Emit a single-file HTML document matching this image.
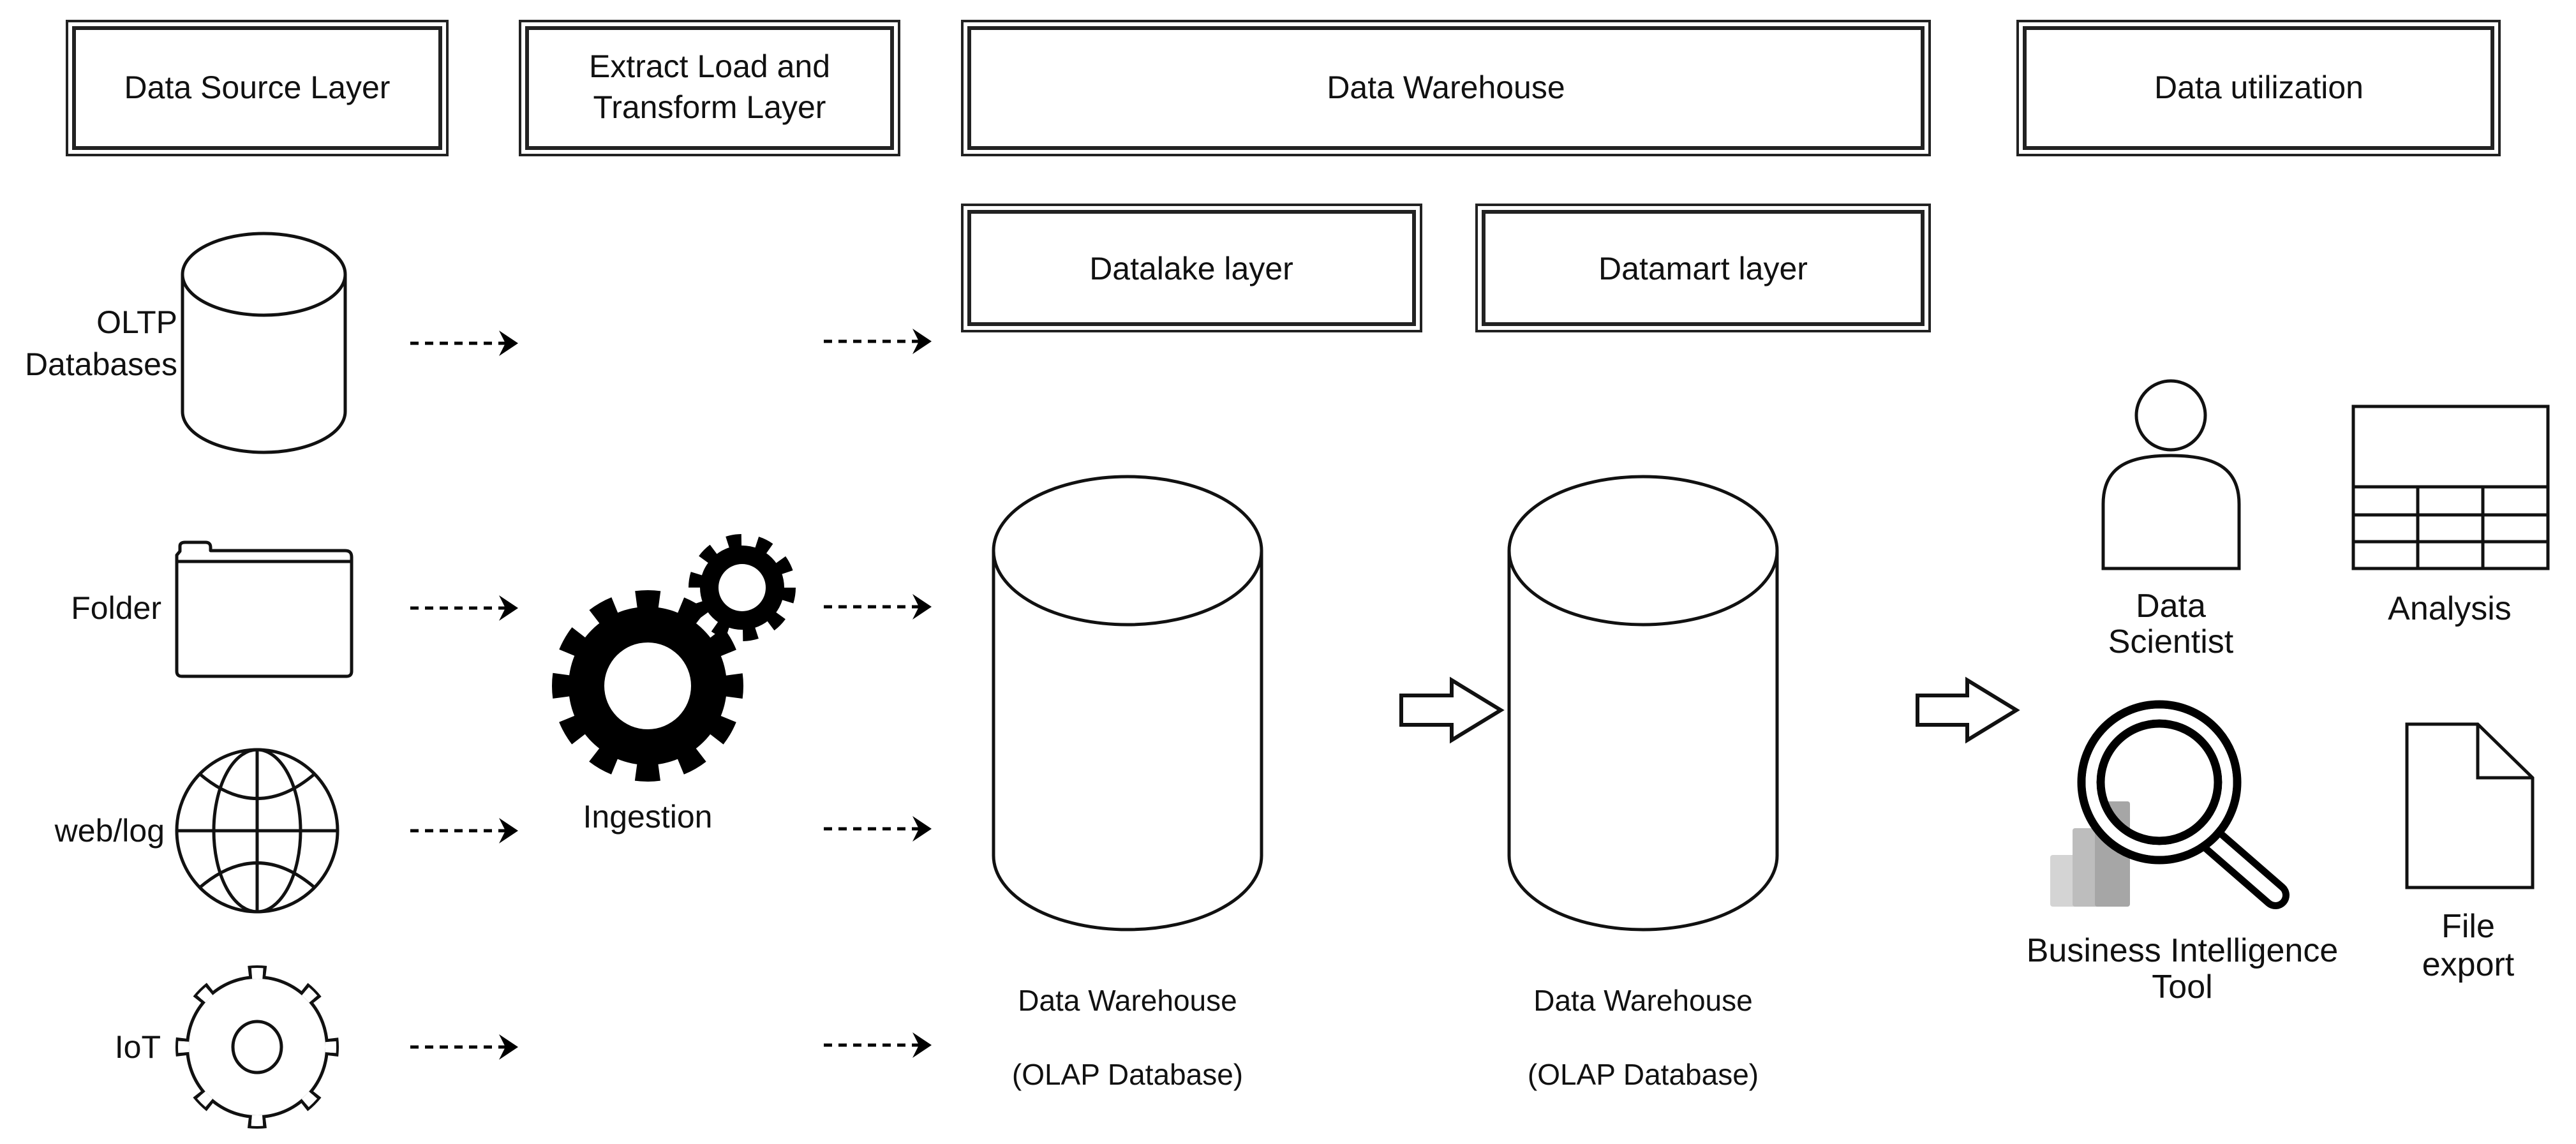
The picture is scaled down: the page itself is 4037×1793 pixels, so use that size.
<!DOCTYPE html>
<html><head><meta charset="utf-8"><style>
html,body{margin:0;padding:0;background:#fff}
svg{display:block}
text{font-family:"Liberation Sans",Arial,sans-serif;fill:#111}
</style></head><body>
<svg width="4037" height="1793" viewBox="0 0 4037 1793" xmlns="http://www.w3.org/2000/svg">
<defs>
<g id="ah"><polygon points="0,0 -30,-20 -20,0 -30,20" fill="#000"/></g>
</defs>
<g fill="none" stroke="#222">
<rect x="105" y="33" width="596" height="210" stroke-width="4"/><rect x="116" y="44" width="574" height="188" stroke-width="6"/>
<rect x="815" y="33" width="594" height="210" stroke-width="4"/><rect x="826" y="44" width="572" height="188" stroke-width="6"/>
<rect x="1508" y="33" width="1516" height="210" stroke-width="4"/><rect x="1519" y="44" width="1494" height="188" stroke-width="6"/>
<rect x="3162" y="33" width="755" height="210" stroke-width="4"/><rect x="3173" y="44" width="733" height="188" stroke-width="6"/>
<rect x="1508" y="321" width="719" height="198" stroke-width="4"/><rect x="1519" y="332" width="697" height="176" stroke-width="6"/>
<rect x="2314" y="321" width="710" height="198" stroke-width="4"/><rect x="2325" y="332" width="688" height="176" stroke-width="6"/>
</g>
<g font-size="50" text-anchor="middle">
<text x="403" y="154">Data Source Layer</text>
<text x="1112" y="121">Extract Load and</text>
<text x="1112" y="185">Transform Layer</text>
<text x="2266" y="154">Data Warehouse</text>
<text x="3540" y="154">Data utilization</text>
<text x="1867" y="438">Datalake layer</text>
<text x="2669" y="438">Datamart layer</text>
</g>
<g fill="#fff" stroke="#111" stroke-width="5">
<path d="M286,430 L286,645 A127.5,64 0 0 0 541,645 L541,430"/>
<ellipse cx="413.5" cy="430" rx="127.5" ry="64"/>
</g>
<g font-size="50" text-anchor="end">
<text x="278" y="522">OLTP</text>
<text x="278" y="588">Databases</text>
<text x="253" y="970">Folder</text>
<text x="258" y="1319">web/log</text>
<text x="252" y="1658">IoT</text>
</g>
<g fill="#fff" stroke="#111" stroke-width="5" stroke-linejoin="round">
<path d="M282,864 L282,856 Q282,850 290,850 L322,850 Q330,850 330,858 L330,863 L541,863 Q551,863 551,873 L551,1052 Q551,1060 543,1060 L285,1060 Q277,1060 277,1052 L277,870 Z"/>
<line x1="277" y1="880" x2="551" y2="880"/>
</g>
<g fill="none" stroke="#111" stroke-width="5">
<ellipse cx="403" cy="1302" rx="126" ry="127"/>
<ellipse cx="403" cy="1302" rx="68" ry="127"/>
<line x1="403" y1="1175" x2="403" y2="1429"/>
<line x1="277" y1="1302" x2="529" y2="1302"/>
<path d="M313,1213 Q403,1290 493,1213"/>
<path d="M313,1391 Q403,1314 493,1391"/>
</g>
<g>
<circle cx="403" cy="1641" r="112" fill="#111"/>
<circle cx="403" cy="1641" r="119" fill="none" stroke="#111" stroke-width="18" stroke-dasharray="28 65.46" stroke-dashoffset="14"/>
<circle cx="403" cy="1641" r="107" fill="#fff"/>
<circle cx="403" cy="1641" r="119" fill="none" stroke="#fff" stroke-width="10" stroke-dasharray="18 75.46" stroke-dashoffset="9"/>
<circle cx="403" cy="1641" r="112" fill="none" stroke="#fff" stroke-width="10" stroke-dasharray="16.94 71.03" stroke-dashoffset="8.47"/>
<ellipse cx="403" cy="1641" rx="38" ry="40" fill="none" stroke="#111" stroke-width="5"/>
</g>
<g>
<circle cx="1163" cy="921" r="66" fill="#000"/>
<circle cx="1163" cy="921" r="74" fill="none" stroke="#000" stroke-width="20" stroke-dasharray="22 24.5"/>
<circle cx="1163" cy="921" r="37" fill="#fff"/>
<circle cx="1015" cy="1075" r="124" fill="#000"/>
<circle cx="1015" cy="1075" r="134" fill="none" stroke="#000" stroke-width="32" stroke-dasharray="36 34.16" stroke-dashoffset="18"/>
<circle cx="1015" cy="1075" r="68" fill="#fff"/>
</g>
<text x="1015" y="1297" font-size="50" text-anchor="middle">Ingestion</text>
<g stroke="#000" stroke-width="5" stroke-dasharray="13 10">
<line x1="643" y1="538" x2="795" y2="538"/><line x1="1291" y1="535" x2="1443" y2="535"/>
<line x1="643" y1="953" x2="795" y2="953"/><line x1="1291" y1="951" x2="1443" y2="951"/>
<line x1="643" y1="1302" x2="795" y2="1302"/><line x1="1291" y1="1299" x2="1443" y2="1299"/>
<line x1="643" y1="1641" x2="795" y2="1641"/><line x1="1291" y1="1638" x2="1443" y2="1638"/>
</g>
<use href="#ah" x="812" y="538"/><use href="#ah" x="1460" y="535"/>
<use href="#ah" x="812" y="953"/><use href="#ah" x="1460" y="951"/>
<use href="#ah" x="812" y="1302"/><use href="#ah" x="1460" y="1299"/>
<use href="#ah" x="812" y="1641"/><use href="#ah" x="1460" y="1638"/>
<g fill="#fff" stroke="#111" stroke-width="5">
<path d="M1557,863 L1557,1341 A210,116 0 0 0 1977,1341 L1977,863"/>
<ellipse cx="1767" cy="863" rx="210" ry="116"/>
<path d="M2365,863 L2365,1341 A210,116 0 0 0 2785,1341 L2785,863"/>
<ellipse cx="2575" cy="863" rx="210" ry="116"/>
</g>
<g font-size="46" text-anchor="middle">
<text x="1767" y="1584">Data Warehouse</text>
<text x="1767" y="1700">(OLAP Database)</text>
<text x="2575" y="1584">Data Warehouse</text>
<text x="2575" y="1700">(OLAP Database)</text>
</g>
<g fill="#fff" stroke="#111" stroke-width="6" stroke-linejoin="miter">
<polygon points="2196,1090 2275,1090 2275,1066 2352,1113 2275,1160 2275,1136 2196,1136"/>
<polygon points="3005,1090 3083,1090 3083,1066 3160,1113 3083,1160 3083,1136 3005,1136"/>
</g>
<g fill="#fff" stroke="#111" stroke-width="5">
<path d="M3296,891 L3296,790 C3296,732 3335,714 3402,714 C3469,714 3509,732 3509,790 L3509,891 Z"/>
<circle cx="3402" cy="651" r="54"/>
</g>
<g fill="none" stroke="#111" stroke-width="5">
<rect x="3688" y="637" width="305" height="254"/>
<line x1="3688" y1="763" x2="3993" y2="763"/>
<line x1="3688" y1="807" x2="3993" y2="807"/>
<line x1="3688" y1="849" x2="3993" y2="849"/>
<line x1="3789" y1="763" x2="3789" y2="891"/>
<line x1="3891" y1="763" x2="3891" y2="891"/>
</g>
<g font-size="52" text-anchor="middle">
<text x="3402" y="967">Data</text>
<text x="3402" y="1023">Scientist</text>
<text x="3839" y="971">Analysis</text>
<text x="3420" y="1507">Business Intelligence</text>
<text x="3420" y="1564">Tool</text>
<text x="3868" y="1469">File</text>
<text x="3868" y="1529">export</text>
</g>
<rect x="3213" y="1340" width="57" height="81" rx="4" fill="#d4d4d4"/>
<rect x="3248" y="1298" width="55" height="123" rx="4" fill="#bdbdbd"/>
<rect x="3283" y="1256" width="55" height="165" rx="4" fill="#a6a6a6"/>
<g fill="none" stroke="#000">
<line x1="3466" y1="1316" x2="3566" y2="1403" stroke="#000" stroke-width="44" stroke-linecap="round"/>
<line x1="3466" y1="1316" x2="3566" y2="1403" stroke="#fff" stroke-width="22" stroke-linecap="round"/>
<circle cx="3384" cy="1226" r="122" stroke-width="13"/>
<circle cx="3384" cy="1226" r="92" stroke-width="13"/>
<circle cx="3384" cy="1226" r="107" stroke="#fff" stroke-width="17"/>
</g>
<path d="M3772,1135 L3883,1135 L3969,1219 L3969,1391 L3772,1391 Z M3883,1135 L3883,1219 L3969,1219" fill="#fff" stroke="#111" stroke-width="5" stroke-linejoin="miter"/>
</svg>
</body></html>
